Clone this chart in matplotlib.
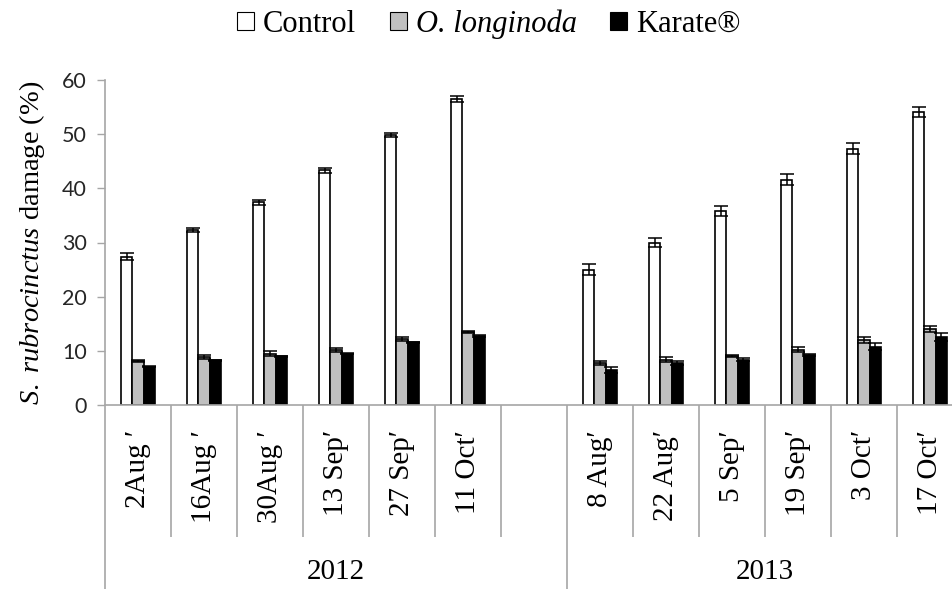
import matplotlib
matplotlib.use("Agg")
import matplotlib.pyplot as plt
import numpy as np

# Sampling dates (blank slot separates the two seasons)
dates = ["2Aug \u2032", "16Aug \u2032", "30Aug \u2032", "13 Sep\u2032", "27 Sep\u2032", "11 Oct\u2032", "",
         "8 Aug\u2032", "22 Aug\u2032", "5 Sep\u2032", "19 Sep\u2032", "3 Oct\u2032", "17 Oct\u2032"]
years = ["2012", "2013"]

# Damage (%) per treatment, NaN for the blank slot
control = [27.4, 32.3, 37.4, 43.3, 49.8, 56.5, np.nan, 25.0, 30.0, 35.8, 41.6, 47.3, 54.1]
control_se = [0.6, 0.3, 0.4, 0.5, 0.35, 0.5, np.nan, 1.0, 0.8, 0.9, 1.0, 1.0, 1.0]
longinoda = [8.1, 8.9, 9.5, 10.2, 12.2, 13.5, np.nan, 7.7, 8.4, 9.0, 10.2, 12.0, 14.0]
longinoda_se = [0.2, 0.4, 0.4, 0.4, 0.4, 0.2, np.nan, 0.4, 0.4, 0.2, 0.5, 0.5, 0.5]
karate = [7.1, 8.3, 9.0, 9.5, 11.6, 12.8, np.nan, 6.5, 7.7, 8.4, 9.2, 10.8, 12.6]
karate_se = [0.1, 0.1, 0.1, 0.1, 0.1, 0.2, np.nan, 0.5, 0.4, 0.3, 0.2, 0.6, 0.75]

plt.rcParams["font.family"] = ["Liberation Serif", "DejaVu Serif"]
plt.rcParams["mathtext.fontset"] = "custom"
plt.rcParams["mathtext.rm"] = "Liberation Serif"
plt.rcParams["mathtext.it"] = "Liberation Serif:italic"

fig = plt.figure(figsize=(9.52, 5.89), dpi=100)
ax = fig.add_axes([105 / 952, 1 - 405 / 589, 858 / 952, 325 / 589])

x = np.arange(len(dates))
w = 0.167
axis_grey = "#a6a6a6"
err_kw = dict(ecolor="black", elinewidth=1.1, capsize=5, capthick=1.1)

ax.bar(x - w, control, w, yerr=control_se, color="white", edgecolor="black",
       linewidth=1.2, error_kw=err_kw, label="Control", zorder=2)
ax.bar(x, longinoda, w, yerr=longinoda_se, color="#c0c0c0", edgecolor="black",
       linewidth=1.2, error_kw=err_kw, label="O. longinoda", zorder=2)
ax.bar(x + w, karate, w, yerr=karate_se, color="black", edgecolor="black",
       linewidth=1.2, error_kw=err_kw, label="Karate\u00ae", zorder=2)

ax.set_xlim(-0.5, len(dates) - 0.5)
ax.set_ylim(0, 60)
ax.set_yticks(np.arange(0, 61, 10))
for lab in ax.get_yticklabels():
    lab.set_fontfamily("Lato")
    lab.set_fontsize(15.5)
    lab.set_color("#262626")
ax.tick_params(axis="y", direction="out", length=6, width=1, color=axis_grey, pad=7)

ax.set_xticks(x, dates, rotation=90, fontsize=21)
ax.tick_params(axis="x", length=0, pad=18)

for s in ["top", "right"]:
    ax.spines[s].set_visible(False)
for s in ["left", "bottom"]:
    ax.spines[s].set_color(axis_grey)
    ax.spines[s].set_linewidth(1.2)

# Category separators below the axis
tr = ax.get_xaxis_transform()
short_seps = [i + 0.5 for i in range(len(dates) - 1) if i != 6]
ax.vlines(short_seps, -0.406, 0, transform=tr, colors=axis_grey, linewidth=1.2, clip_on=False)
ax.vlines([-0.5, 6.5], -0.6, 0, transform=tr, colors=axis_grey, linewidth=1.2, clip_on=False)

# Season labels
ax.text(3.0, -0.515, years[0], transform=tr, ha="center", va="center", fontsize=21)
ax.text(9.5, -0.515, years[1], transform=tr, ha="center", va="center", fontsize=21)

ax.set_ylabel(r"$\mathit{S.\ rubrocinctus}$ damage (%)", fontsize=20.5, labelpad=11)

leg = fig.legend(loc="center", bbox_to_anchor=(489 / 952, 1 - 24 / 589), ncol=3,
                 frameon=False, fontsize=22, handlelength=0.55, handleheight=0.55,
                 handletextpad=0.3, columnspacing=1.1, borderaxespad=0)
leg.get_texts()[1].set_style("italic")
for h in leg.legend_handles:
    h.set_linewidth(0.8)

fig.savefig("out.png", dpi=100)
